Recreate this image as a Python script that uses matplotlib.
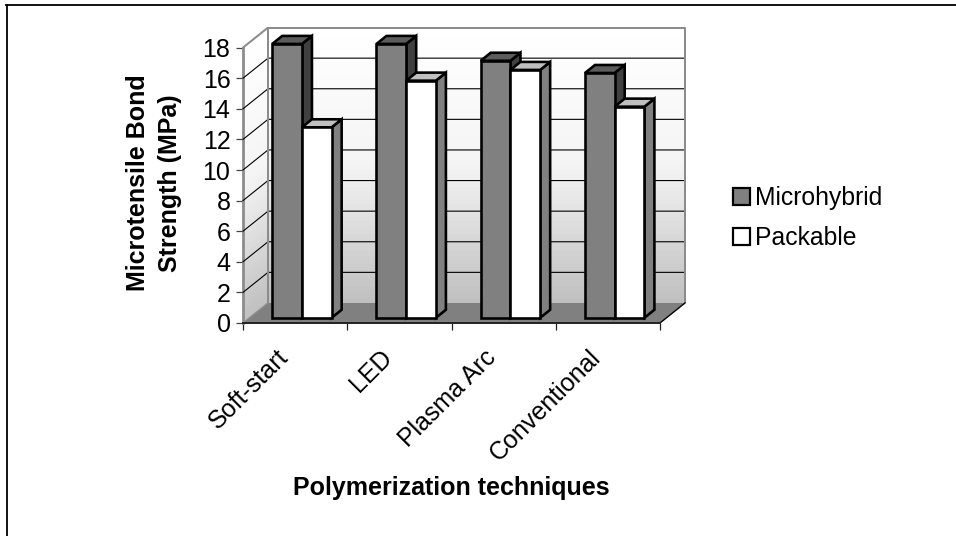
#!/usr/bin/env python3

import matplotlib
matplotlib.use("Agg")
import matplotlib.pyplot as plt
import numpy as np
from matplotlib.colors import LinearSegmentedColormap
from matplotlib.lines import Line2D
from matplotlib.patches import Patch, Polygon
from matplotlib.transforms import ScaledTranslation


CATEGORIES = ["Soft-start", "LED", "Plasma Arc", "Conventional"]
MICROHYBRID = [17.9, 17.9, 16.8, 16.0]
PACKABLE = [12.45, 15.5, 16.2, 13.8]
Y_TICKS = [0, 2, 4, 6, 8, 10, 12, 14, 16, 18]

# 3d look: how far the back wall sits from the front plane, in data units
DEPTH_X = 0.24
DEPTH_Y = 1.31
BAR_FRONT = 0.26
BAR_BACK = 0.66
BAR_WIDTH = 0.285
BAR_START = 0.218

EDGE_PX = 0.72
plt.rcParams["font.family"] = ["Liberation Sans", "DejaVu Sans"]


def project(x, y, depth):
    return x + depth * DEPTH_X, y + depth * DEPTH_Y


def face(ax, corners, color, zorder, edgecolor="none", lw=0.0):
    points = [project(*c) for c in corners]
    ax.add_patch(Polygon(points, closed=True, facecolor=color, edgecolor=edgecolor,
                         linewidth=lw, zorder=zorder, clip_on=False, joinstyle="miter"))


def draw_walls(ax, n, y_max):
    cmap = LinearSegmentedColormap.from_list("wall", ["#ffffff", "#f4f4f4", "#c0c0c0"])
    levels = np.linspace(0, y_max, 65)
    shade = np.linspace(1, 0, 64).reshape(-1, 1)

    # back wall
    bx = np.array([0.0, n + 0.0]) + DEPTH_X
    by = levels + DEPTH_Y
    ax.pcolormesh(bx, by, shade, cmap=cmap, vmin=0, vmax=1, zorder=1, clip_on=False, rasterized=True)

    # left wall, sheared with the depth
    depths = np.array([0.0, 1.0])
    side_x = np.tile(depths * DEPTH_X, (65, 1))
    side_y = levels[:, None] + depths[None, :] * DEPTH_Y
    ax.pcolormesh(side_x, side_y, shade, cmap=cmap, vmin=0, vmax=1, zorder=1, clip_on=False, rasterized=True)

    # floor
    face(ax, [(0, 0, 0), (n, 0, 0), (n, 0, 1), (0, 0, 1)], "#808080", 2)

    for value in Y_TICKS[1:-1]:
        xs, ys = zip(project(0, value, 0), project(0, value, 1), project(n, value, 1))
        ax.plot(xs, ys, color="#000000", lw=0.8, zorder=3, clip_on=False)

    grey = dict(color="#8c8c8c", lw=2 * EDGE_PX, zorder=4, clip_on=False, solid_capstyle="butt")
    xs, ys = zip(project(0, 0, 1), project(0, y_max, 1), project(n, y_max, 1), project(n, 0, 1))
    ax.plot(xs, ys, **grey)
    xs, ys = zip(project(0, y_max, 0), project(0, y_max, 1))
    ax.plot(xs, ys, **grey)
    xs, ys = zip(project(n, 0, 0), project(n, 0, 1))
    ax.plot(xs, ys, color="#000000", lw=1.0, zorder=4, clip_on=False)
    xs, ys = zip(project(0, 0, 0), project(0, 0, 1))
    ax.plot(xs, ys, color="#8c8c8c", lw=1.0, zorder=4, clip_on=False)


def draw_bar(ax, left, value, colors, zorder):
    right = left + BAR_WIDTH
    front, top, side = colors
    style = dict(edgecolor="#000000", lw=2.6 * EDGE_PX)
    face(ax, [(right, 0, BAR_FRONT), (right, 0, BAR_BACK), (right, value, BAR_BACK), (right, value, BAR_FRONT)],
         side, zorder, **style)
    face(ax, [(left, value, BAR_FRONT), (right, value, BAR_FRONT), (right, value, BAR_BACK), (left, value, BAR_BACK)],
         top, zorder, **style)
    face(ax, [(left, 0, BAR_FRONT), (right, 0, BAR_FRONT), (right, value, BAR_FRONT), (left, value, BAR_FRONT)],
         front, zorder + 0.1, **style)


def main():
    fig = plt.figure(figsize=(9.56, 5.36), dpi=100, facecolor="white")
    ax = fig.add_axes([243 / 956, (536 - 323) / 536, 417 / 956, 275.4 / 536])
    n = len(CATEGORIES)
    ax.set_xlim(0, n)
    ax.set_ylim(0, Y_TICKS[-1])
    ax.set_facecolor("none")

    draw_walls(ax, n, Y_TICKS[-1])

    micro_colors = ("#808080", "#5c5c5c", "#404040")
    pack_colors = ("#ffffff", "#c0c0c0", "#808080")
    for i, (micro, pack) in enumerate(zip(MICROHYBRID, PACKABLE)):
        draw_bar(ax, i + BAR_START, micro, micro_colors, 5 + i)
        draw_bar(ax, i + BAR_START + BAR_WIDTH, pack, pack_colors, 5.5 + i)

    for name in ("top", "right"):
        ax.spines[name].set_visible(False)
    ax.spines["left"].set_color("#8c8c8c")
    ax.spines["left"].set_linewidth(2.0)
    ax.spines["bottom"].set_color("#222222")
    ax.spines["bottom"].set_linewidth(1.4)
    ax.spines["bottom"].set_zorder(4)

    ax.set_yticks(Y_TICKS)
    ax.set_yticklabels([str(v) for v in Y_TICKS], fontsize=18)
    ax.tick_params(axis="y", length=5, width=0.9, color="#444444", pad=4)
    ax.set_xticks(range(n + 1))
    ax.set_xticklabels([])
    ax.tick_params(axis="x", which="major", length=5, width=0.9, color="#222222")
    ax.set_xticks(np.arange(n) + 0.5, minor=True)
    ax.set_xticklabels(CATEGORIES, minor=True, rotation=45, ha="right", va="center",
                       rotation_mode="anchor", fontsize=18)
    ax.tick_params(axis="x", which="minor", length=0, pad=22)
    shift = ScaledTranslation(-11 / 100, 0, fig.dpi_scale_trans)
    for label in ax.get_xticklabels(minor=True):
        label.set_transform(label.get_transform() + shift)

    ax.set_xlabel("Polymerization techniques", fontsize=18, fontweight="bold")
    ax.xaxis.set_label_coords((451 - 243) / 417, (323 - 488) / 275.4)
    ax.xaxis.label.set_verticalalignment("center")
    ax.set_ylabel("Microtensile Bond\nStrength (MPa)", fontsize=18, fontweight="bold", linespacing=1.38)
    ax.yaxis.set_label_coords((154 - 243) / 417, (323 - 183) / 275.4)
    ax.yaxis.label.set_verticalalignment("center")

    handles = [
        Patch(facecolor="#808080", edgecolor="#000000", linewidth=2.2 * EDGE_PX, label="Microhybrid"),
        Patch(facecolor="#ffffff", edgecolor="#000000", linewidth=2.2 * EDGE_PX, label="Packable"),
    ]
    fig.legend(handles=handles, loc="center left", bbox_to_anchor=(733 / 956, 1 - 218 / 536),
               frameon=False, fontsize=17.8, handlelength=0.69, handleheight=0.69,
               handletextpad=0.2, labelspacing=0.65, borderpad=0, borderaxespad=0)

    # chart frame only shows on the top and left
    fig.add_artist(Line2D([6.5 / 956, 6.5 / 956], [0, 1 - 5 / 536], color="#000000", lw=1.3))
    fig.add_artist(Line2D([6 / 956, 1], [1 - 5 / 536, 1 - 5 / 536], color="#000000", lw=1.3))

    fig.savefig("out.png", dpi=100)
    plt.close(fig)


if __name__ == "__main__":
    main()
